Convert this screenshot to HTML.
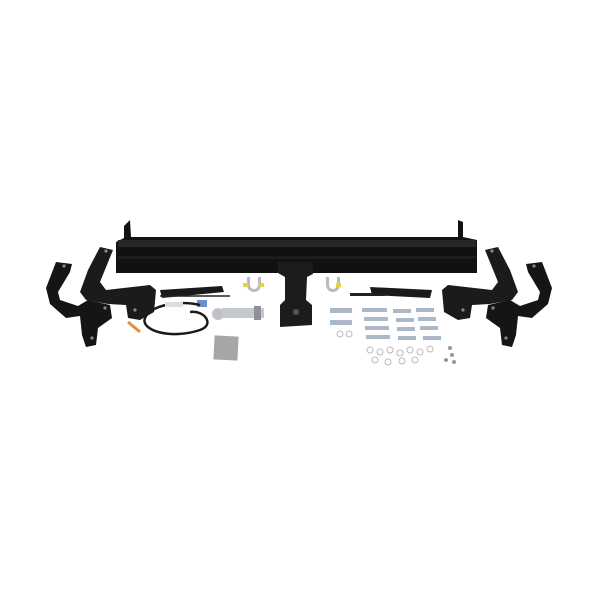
<!DOCTYPE html>
<html><head><style>html,body{margin:0;padding:0;background:#fff;width:600px;height:600px;overflow:hidden}</style></head>
<body>
<svg width="600" height="600" viewBox="0 0 600 600" xmlns="http://www.w3.org/2000/svg">
<rect width="600" height="600" fill="#fff"/>
<defs>
<g id="br">
  <path d="M56,262 L72,264 L70,272 L58,292 L60,300 L78,306 L88,300 L110,305 L112,318 L98,328 L96,345 L86,347 L82,335 L80,316 L66,318 L50,304 L46,288 Z" fill="#151515"/>
  <path d="M100,247 L113,250 L100,282 L106,290 L150,285 L156,290 L154,312 L140,320 L128,318 L126,305 L108,304 L86,300 L80,292 L88,270 Z" fill="#1b1b1b"/>
  <circle cx="64" cy="266" r="1.6" fill="#888"/><circle cx="106" cy="251" r="1.6" fill="#888"/>
  <circle cx="92" cy="338" r="1.6" fill="#888"/><circle cx="135" cy="310" r="1.6" fill="#888"/>
  <circle cx="105" cy="308" r="1.6" fill="#888"/>
</g>
</defs>
<use href="#br"/>
<use href="#br" transform="translate(598,0) scale(-1,1)"/>
<!-- main bar -->
<path d="M124,226 L130,220 L131,237 L458,237 L458,220 L463,222 L463,237 L477,240 L477,273 L116,273 L116,242 L124,238 Z" fill="#111"/>
<rect x="118" y="240" width="358" height="7" fill="#262626"/>
<rect x="118" y="256" width="358" height="3" fill="#1c1c1c"/>
<!-- receiver -->
<path d="M278,262 L313,262 L313,274 L307,277 L306,300 L312,305 L312,325 L280,327 L280,305 L285,300 L285,277 L278,273 Z" fill="#1c1c1c"/>
<circle cx="296" cy="312" r="3" fill="#555"/>
<path d="M160,290 L222,286 L224,292 L162,298 Z" fill="#1a1a1a"/>
<path d="M370,287 L432,290 L430,298 L372,295 Z" fill="#1a1a1a"/>
<rect x="350" y="293" width="35" height="3" fill="#222"/>
<path d="M247,285 a7,7 0 0 0 14,0 v-8 h-3 v8 a4,4 0 0 1 -8,0 v-8 h-3 z" fill="#bbb"/>
<rect x="243" y="283" width="5" height="4" fill="#e8d23a"/><rect x="259" y="283" width="5" height="4" fill="#e8d23a"/>
<path d="M326,285 a7,7 0 0 0 14,0 v-8 h-3 v8 a4,4 0 0 1 -8,0 v-8 h-3 z" fill="#bbb"/>
<rect x="336" y="283" width="5" height="4" fill="#e8d23a"/>
<circle cx="218" cy="314" r="6" fill="#bfc2c6"/>
<rect x="222" y="308" width="42" height="10" fill="#c6c9cc"/>
<rect x="254" y="306" width="7" height="14" fill="#8e9297"/>
<rect x="197" y="300" width="10" height="7" fill="#6c8fc8"/>
<path d="M200,305 C180,300 150,305 145,318 C140,330 170,340 200,330 C215,325 205,310 190,312" stroke="#1a1a1a" stroke-width="2.5" fill="none"/>
<path d="M160,296 L230,296" stroke="#222" stroke-width="1.5"/>
<path d="M128,322 L140,332" stroke="#e0903a" stroke-width="3"/>
<rect x="165" y="302" width="18" height="5" fill="#ddd"/>
<rect x="214" y="336" width="24" height="24" fill="#a6a6a6" transform="rotate(3 226 348)"/>
<g fill="#aab8c8">
<rect x="330" y="308" width="22" height="5"/><rect x="330" y="320" width="22" height="5"/>
<rect x="362" y="308" width="25" height="4"/><rect x="364" y="317" width="24" height="4"/><rect x="365" y="326" width="24" height="4"/><rect x="366" y="335" width="24" height="4"/>
<rect x="393" y="309" width="18" height="4"/><rect x="396" y="318" width="18" height="4"/><rect x="397" y="327" width="18" height="4"/><rect x="398" y="336" width="18" height="4"/>
<rect x="416" y="308" width="18" height="4"/><rect x="418" y="317" width="18" height="4"/><rect x="420" y="326" width="18" height="4"/><rect x="423" y="336" width="18" height="4"/>
</g>
<g fill="none" stroke="#bbb" stroke-width="1">
<circle cx="340" cy="334" r="3"/><circle cx="349" cy="334" r="3"/>
<circle cx="370" cy="350" r="3"/><circle cx="380" cy="352" r="3"/><circle cx="390" cy="350" r="3"/><circle cx="400" cy="353" r="3"/><circle cx="410" cy="350" r="3"/><circle cx="420" cy="352" r="3"/><circle cx="430" cy="349" r="3"/>
<circle cx="375" cy="360" r="3"/><circle cx="388" cy="362" r="3"/><circle cx="402" cy="361" r="3"/><circle cx="415" cy="360" r="3"/>
</g>
<g fill="#8c9aa8"><circle cx="450" cy="348" r="2"/><circle cx="452" cy="355" r="2"/><circle cx="454" cy="362" r="2"/><circle cx="446" cy="360" r="2"/></g>
</svg>
</body></html>
